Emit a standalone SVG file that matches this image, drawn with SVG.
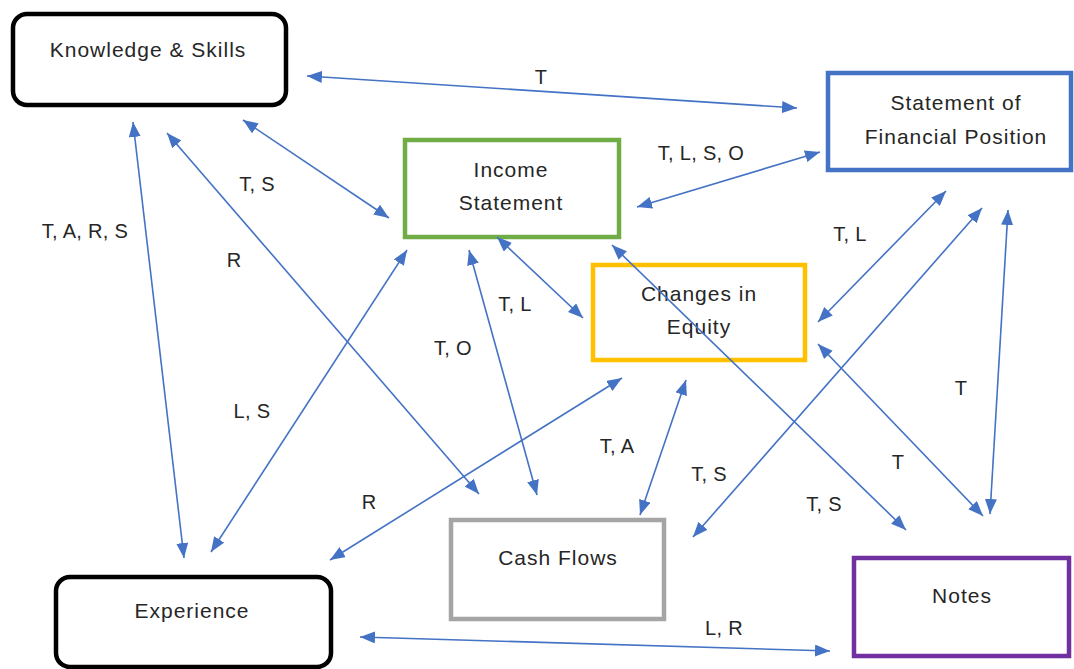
<svg xmlns="http://www.w3.org/2000/svg" width="1074" height="669" viewBox="0 0 1074 669">
<style>
.t{font-family:"Liberation Sans",Arial,sans-serif;font-size:20px;letter-spacing:0.3px;fill:#262626;text-anchor:middle}
.b{font-size:21px;letter-spacing:1px}
.c line{stroke:#4472C4;stroke-width:1.6;marker-start:url(#ah);marker-end:url(#ah)}
.box{fill:#fff;stroke-width:4.5}
</style>
<defs>
<marker id="ah" markerUnits="userSpaceOnUse" markerWidth="16" markerHeight="12" refX="15" refY="6" orient="auto-start-reverse">
<path d="M0,0 L15,6 L0,12 z" fill="#4472C4"/>
</marker>
</defs>
<rect width="1074" height="669" fill="#fff"/>
<g id="knowledge"><rect class="box" x="13" y="14" width="273" height="91" rx="14" stroke="#000"/><text class="t b" x="148" y="57">Knowledge &amp; Skills</text></g>
<g id="sfp"><rect class="box" x="828" y="73" width="243" height="97" stroke="#4472C4"/><text class="t b" x="956" y="110">Statement of</text><text class="t b" x="956" y="144">Financial Position</text></g>
<g id="income"><rect class="box" x="405" y="140" width="214" height="97" stroke="#70AD47"/><text class="t b" x="511" y="177">Income</text><text class="t b" x="511" y="210">Statement</text></g>
<g id="equity"><rect class="box" x="593" y="265" width="212" height="95" stroke="#FFC000"/><text class="t b" x="699" y="301">Changes in</text><text class="t b" x="699" y="334">Equity</text></g>
<g id="cashflows"><rect class="box" x="451" y="520" width="213" height="99" stroke="#A5A5A5"/><text class="t b" x="558" y="565">Cash Flows</text></g>
<g id="experience"><rect class="box" x="56" y="577" width="275" height="90" rx="14" stroke="#000"/><text class="t b" x="192" y="618">Experience</text></g>
<g id="notes"><rect class="box" x="854" y="558" width="215" height="98" stroke="#7030A0"/><text class="t b" x="962" y="603">Notes</text></g>
<g id="connectors" class="c">
<line x1="307" y1="76" x2="797" y2="108"/>
<line x1="243" y1="120" x2="389" y2="218"/>
<line x1="167" y1="133" x2="479" y2="494"/>
<line x1="133" y1="122" x2="184" y2="558"/>
<line x1="637" y1="207" x2="820" y2="152"/>
<line x1="407" y1="250" x2="211" y2="552"/>
<line x1="469" y1="250" x2="537" y2="495"/>
<line x1="497" y1="237" x2="583" y2="318"/>
<line x1="612" y1="245" x2="906" y2="530"/>
<line x1="622" y1="378" x2="330" y2="560"/>
<line x1="686" y1="380" x2="640" y2="515"/>
<line x1="818" y1="322" x2="946" y2="191"/>
<line x1="818" y1="344" x2="983" y2="516"/>
<line x1="982" y1="208" x2="693" y2="537"/>
<line x1="1008" y1="210" x2="990" y2="514"/>
<line x1="360" y1="637" x2="830" y2="651"/>
</g>
<g id="labels">
<text class="t" x="541" y="84">T</text>
<text class="t" x="257" y="191">T, S</text>
<text class="t" x="234" y="267">R</text>
<text class="t" x="85" y="238">T, A, R, S</text>
<text class="t" x="701" y="160">T, L, S, O</text>
<text class="t" x="252" y="418">L, S</text>
<text class="t" x="453" y="355">T, O</text>
<text class="t" x="515" y="311">T, L</text>
<text class="t" x="824" y="511">T, S</text>
<text class="t" x="369" y="509">R</text>
<text class="t" x="617" y="453">T, A</text>
<text class="t" x="850" y="241">T, L</text>
<text class="t" x="898" y="469">T</text>
<text class="t" x="709" y="481">T, S</text>
<text class="t" x="961" y="395">T</text>
<text class="t" x="724" y="635">L, R</text>
</g>
</svg>
